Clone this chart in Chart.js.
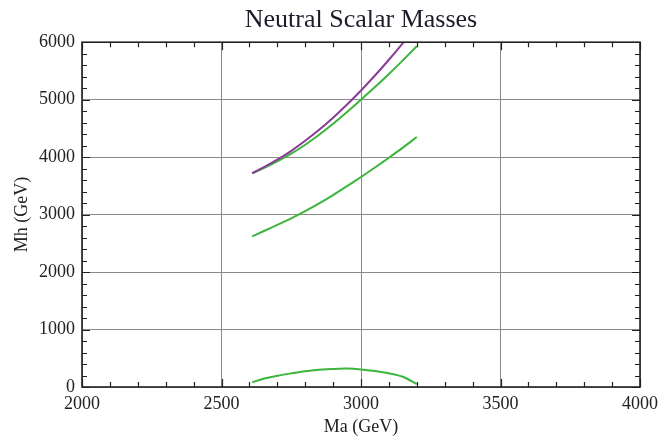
<!DOCTYPE html>
<html><head><meta charset="utf-8">
<script src="https://cdn.jsdelivr.net/npm/chart.js@4"></script>
<style>html,body{margin:0;padding:0;background:#fff}#wrap{width:661px;height:440px}</style>
</head><body><div id="wrap"><canvas id="c" width="661" height="440"></canvas></div>
<script>
// ---- data ----
const maValues      = [2610, 2650, 2700, 2750, 2800, 2850, 2900, 2950, 3000, 3050, 3100, 3150, 3200];
const mhPurple      = [3720, 3822, 3955, 4110, 4285, 4475, 4685, 4915, 5160, 5420, 5695, 5985, 6290];
const mhGreenUpper  = [3720, 3805, 3925, 4060, 4215, 4390, 4580, 4785, 5000, 5219, 5448, 5684, 5930];
const mhGreenMiddle = [2620, 2710, 2820, 2935, 3060, 3195, 3340, 3495, 3655, 3820, 3990, 4165, 4350];
const mhGreenLower  = [  80,  145,  195,  237,  275,  300,  315,  320,  306,  278,  238,  178,   50];
const xTickLabels = [2000, 2500, 3000, 3500, 4000];
const yTickLabels = [0, 1000, 2000, 3000, 4000, 5000, 6000];
const xMinorStep = 100;
const yMinorStep = 200;

const pts = ys => maValues.map((x, i) => ({x: x, y: ys[i]}));
const SERIF = "'Liberation Serif','Times New Roman',serif";
const PURPLE = '#8a3b98';
const GREEN = '#3db53d';

const frameTicks = {
  id: 'frameTicks',
  afterLayout(chart) {
    // centre the title over the plotting frame
    if (chart.titleBlock) {
      chart.titleBlock.left = chart.chartArea.left;
      chart.titleBlock.right = chart.chartArea.right;
    }
  },
  afterDraw(chart) {
    const {ctx, chartArea: {left, right, top, bottom}, scales: {x, y}} = chart;
    ctx.save();
    ctx.strokeStyle = '#222';
    ctx.lineWidth = 1.2;
    ctx.beginPath();
    for (let v = x.min; v <= x.max; v += xMinorStep) {
      const px = Math.round(x.getPixelForValue(v)) + 0.5;
      const len = (v % 500 === 0) ? 8 : 5;
      ctx.moveTo(px, bottom); ctx.lineTo(px, bottom - len);
      ctx.moveTo(px, top); ctx.lineTo(px, top + len);
    }
    for (let v = y.min; v <= y.max; v += yMinorStep) {
      const py = Math.round(y.getPixelForValue(v)) + 0.5;
      const len = (v % 1000 === 0) ? 8 : 5;
      ctx.moveTo(left, py); ctx.lineTo(left + len, py);
      ctx.moveTo(right, py); ctx.lineTo(right - len, py);
    }
    ctx.stroke();
    ctx.lineWidth = 1.6;
    ctx.strokeRect(left, top, right - left, bottom - top);
    ctx.restore();
  }
};

const ds = (label, ys, color) => ({
  label: label, data: pts(ys), borderColor: color, backgroundColor: color,
  borderWidth: 2, pointRadius: 0, tension: 0.3, fill: false
});

new Chart(document.getElementById('c'), {
  type: 'line',
  data: {
    datasets: [
      ds('Mh purple', mhPurple, PURPLE),
      ds('Mh green upper', mhGreenUpper, GREEN),
      ds('Mh green middle', mhGreenMiddle, GREEN),
      ds('Mh green lower', mhGreenLower, GREEN)
    ]
  },
  options: {
    responsive: false, animation: false, devicePixelRatio: 1,
    layout: {padding: {left: 0, right: 21, top: 0, bottom: 0}},
    plugins: {
      legend: {display: false},
      tooltip: {enabled: false},
      title: {
        display: true, text: 'Neutral Scalar Masses', color: '#1c1c2a',
        font: {family: SERIF, size: 26, weight: 'normal'},
        padding: {top: 5, bottom: 6}
      }
    },
    scales: {
      x: {
        type: 'linear', min: 2000, max: 4000,
        afterBuildTicks: s => { s.ticks = xTickLabels.map(v => ({value: v})); },
        afterFit: s => { s.height = 53; s.paddingLeft = 0; s.paddingRight = 0; },
        ticks: {color: '#222', font: {family: SERIF, size: 18}, padding: 6, maxRotation: 0,
          callback: v => String(v)},
        grid: {color: '#8a8a8a', lineWidth: 1, drawTicks: false},
        border: {display: false},
        title: {display: true, text: 'Ma (GeV)', color: '#222',
          font: {family: SERIF, size: 18}, padding: {top: 0, bottom: 2}}
      },
      y: {
        type: 'linear', min: 0, max: 6000,
        afterBuildTicks: s => { s.ticks = yTickLabels.map(v => ({value: v})); },
        afterFit: s => { s.width = 82; s.paddingTop = 0; s.paddingBottom = 0; },
        ticks: {color: '#222', font: {family: SERIF, size: 18}, padding: 7,
          callback: v => String(v)},
        grid: {color: '#8a8a8a', lineWidth: 1, drawTicks: false},
        border: {display: false},
        title: {display: true, text: 'Mh (GeV)', color: '#222',
          font: {family: SERIF, size: 18}, padding: {top: 11, bottom: 0}}
      }
    }
  },
  plugins: [frameTicks]
});
</script>
</body></html>
